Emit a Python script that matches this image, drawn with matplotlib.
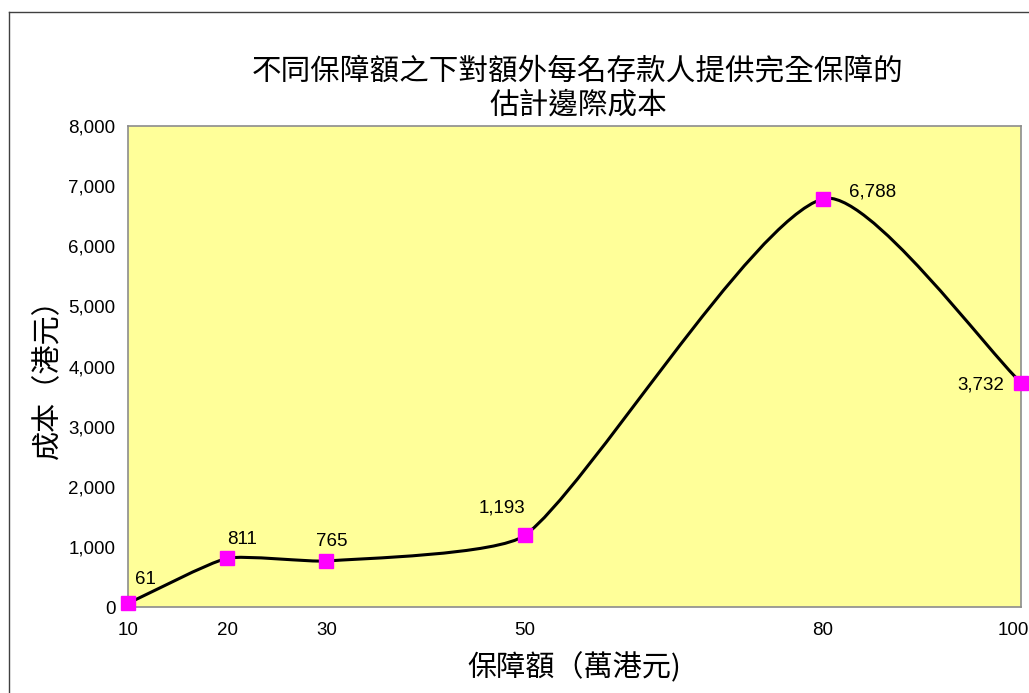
import matplotlib
matplotlib.use('Agg')
import numpy as np
import matplotlib.pyplot as plt
from matplotlib.path import Path
from matplotlib.patches import PathPatch
from matplotlib.lines import Line2D
from matplotlib.ticker import FuncFormatter
from matplotlib.transforms import ScaledTranslation

plt.rcParams['font.family'] = ['Liberation Sans', 'Noto Sans CJK TC', 'DejaVu Sans']

# data
coverage = [10, 20, 30, 50, 80, 100]          # 保障額（萬港元）
cost = [61, 811, 765, 1193, 6788, 3732]        # 成本（港元）
labels = ['61', '811', '765', '1,193', '6,788', '3,732']
label_offsets = [(17, 24), (15, 19), (5, 20), (-23, 27), (50, 7), (-40, -2)]  # pixels

title = '不同保障額之下對額外每名存款人提供完全保障的\n估計邊際成本'
xlabel = '保障額（萬港元)'
ylabel = '成本（港元）'
xticks = [10, 20, 30, 50, 80, 100]
yticks = list(range(0, 8001, 1000))

W, H = 1029, 693
fig = plt.figure(figsize=(W / 100, H / 100), dpi=100)
ax = fig.add_axes([128 / W, 86 / H, 893 / W, 481 / H])
ax.set_facecolor('#FFFF99')
for s in ax.spines.values():
    s.set_color('#8c8c8c')
    s.set_linewidth(1.2)
ax.set_xlim(10, 100)
ax.set_ylim(0, 8000)

# smoothed line: bezier through the points, tangents built in screen space
disp = ax.transData.transform(np.column_stack([coverage, cost]))
n = len(disp)
verts = [disp[0]]
codes = [Path.MOVETO]


def tangent(i):
    a = disp[max(i - 1, 0)]
    b = disp[min(i + 1, n - 1)]
    v = b - a
    return v / np.hypot(*v)


for i in range(n - 1):
    p1, p2 = disp[i], disp[i + 1]
    d = np.hypot(*(p2 - p1))
    c1 = p1 + tangent(i) * d / 6
    c2 = p2 - tangent(i + 1) * d / 6
    verts += [c1, c2, p2]
    codes += [Path.CURVE4] * 3
verts = ax.transData.inverted().transform(np.array(verts))
ax.add_patch(PathPatch(Path(verts, codes), facecolor='none', edgecolor='black',
                       linewidth=2.2, zorder=3))

ax.plot(coverage, cost, linestyle='none', marker='s', markersize=10,
        color='#FF00FF', zorder=4, clip_on=False)

for x, y, t, off in zip(coverage, cost, labels, label_offsets):
    ax.annotate(t, (x, y), xytext=off, textcoords='offset pixels',
                fontsize=13.5, ha='center', va='center', color='black')

ax.set_xticks(xticks)
ax.set_yticks(yticks)
ax.yaxis.set_major_formatter(FuncFormatter(lambda v, p: f'{int(v):,}'))
ax.tick_params(length=0, labelsize=13.5, colors='black')
ax.tick_params(axis='y', pad=9)
ax.tick_params(axis='x', pad=11)
last = ax.get_xticklabels()[-1]
last.set_transform(last.get_transform() + ScaledTranslation(-0.08, 0, fig.dpi_scale_trans))

ax.set_xlabel(xlabel, fontsize=21, family=['Noto Sans CJK TC'], labelpad=10)
fig.text(48 / W, 1 - 372 / H, ylabel, rotation=90, ha='center', va='center',
         fontsize=21, family=['Noto Sans CJK TC'])
fig.text(578 / W, 1 - 88 / H, title, ha='center', va='center', fontsize=21.3,
         family=['Noto Sans CJK TC'], linespacing=1.1)

# outer chart border (left and top visible)
fig.add_artist(Line2D([8.5 / W, 8.5 / W], [0, 1 - 11.5 / H], transform=fig.transFigure,
                      color='#404040', linewidth=1))
fig.add_artist(Line2D([8.5 / W, 1], [1 - 11.5 / H, 1 - 11.5 / H], transform=fig.transFigure,
                      color='#404040', linewidth=1))

fig.savefig('out.png', dpi=100)
